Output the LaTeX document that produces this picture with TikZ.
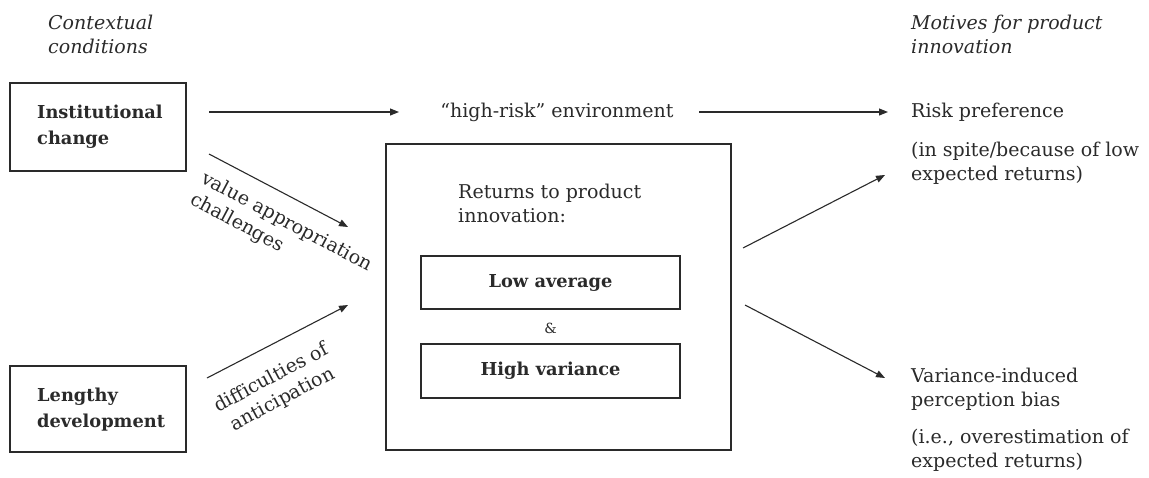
\documentclass[tikz,border=0pt]{standalone}
\usepackage{fontspec}
\setmainfont{DejaVu Serif}
\usetikzlibrary{arrows.meta}
\definecolor{ink}{HTML}{2A2A2A}
\begin{document}
\begin{tikzpicture}[x=1pt,y=-1pt,
  every node/.style={text=ink,font=\fontsize{19}{24}\selectfont,inner sep=0pt},
  box/.style={draw=ink,line width=1.3pt},
  bl/.style={font=\fontsize{17.8}{26}\selectfont\bfseries},
  head/.style={font=\fontsize{19}{24}\selectfont\itshape,align=left,anchor=west},
  rt/.style={align=left,anchor=west},
  conn/.style={draw=ink,line width=1.1pt,-{Triangle[length=9pt,width=7pt]}}]
\useasboundingbox (0,0) rectangle (1149,477);
% headings
\node[head] (hl) at (48,34) {Contextual\\conditions};
\node[head] (hr) at (911,34) {Motives for product\\innovation};
% left boxes
\draw[box] (10,83) rectangle (186,171);
\node[bl,align=left,anchor=west] (ic) at (37,127) {Institutional\\change};
\draw[box] (10,366) rectangle (186,452);
\node[bl,align=left,anchor=west] (ld) at (37,410) {Lengthy\\development};
% centre box
\draw[box] (386,144) rectangle (731,450);
\node[rt] (ret) at (458,203) {Returns to product\\innovation:};
\node[box,bl,minimum width=259pt,minimum height=53pt] (la) at (550.5,282.5) {Low average};
\node (amp) at (550.5,328) {\fontsize{14}{16}\selectfont\&};
\node[box,bl,minimum width=259pt,minimum height=54pt] (hv) at (550.5,371) {High variance};
% top line
\node (hr1) at (557,112) {“high-risk” environment};
\coordinate (a1s) at (209,112);
\coordinate (a1e) at (399,112);
\coordinate (a2s) at (699,112);
\coordinate (a2e) at (888,112);
\draw[conn] (a1s) -- (a1e);
\draw[conn] (a2s) -- (a2e);
% right texts
\node[anchor=west] (rp) at (911,112) {Risk preference};
\node[rt] (rp2) at (911,163) {(in spite/because of low\\expected returns)};
\node[rt] (vb) at (911,389) {Variance-induced\\perception bias};
\node[rt] (vb2) at (911,450) {(i.e., overestimation of\\expected returns)};
% diagonal arrows left
\coordinate (d1s) at (209,154);
\coordinate (d1e) at (348,227);
\coordinate (d2s) at (207,378);
\coordinate (d2e) at (348,305);
\draw[conn] (d1s) -- (d1e);
\draw[conn] (d2s) -- (d2e);
\node[align=left,rotate=-28] (lab1) at (281,233) {value appropriation\\challenges};
\node[align=center,rotate=28] (lab2) at (277,389) {difficulties of\\anticipation};
% diagonal arrows right
\coordinate (r1s) at (743,248);
\coordinate (r1e) at (885,175);
\coordinate (r2s) at (745,305);
\coordinate (r2e) at (885,378);
\draw[conn] (r1s) -- (r1e);
\draw[conn] (r2s) -- (r2e);
\end{tikzpicture}
\end{document}
